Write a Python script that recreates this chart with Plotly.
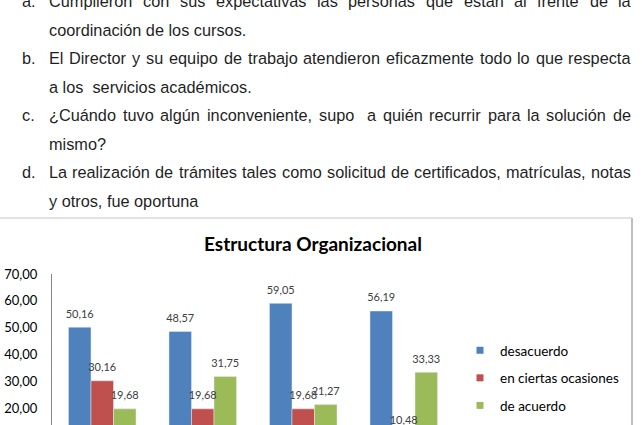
import plotly.graph_objects as go

# ---------------- data ----------------
categories = ["a", "b", "c", "d"]
series_names = ["desacuerdo", "en ciertas ocasiones", "de acuerdo"]
desacuerdo = [50.16, 48.57, 59.05, 56.19]
en_ciertas_ocasiones = [30.16, 19.68, 19.68, 10.48]
de_acuerdo = [19.68, 31.75, 21.27, 33.33]
y_tick_values = [20, 30, 40, 50, 60, 70]
chart_title = "Estructura Organizacional"

doc_labels = ["a.", "b.", "c.", "d."]
doc_first_lines = [
    "Cumplieron con sus expectativas las personas que están al frente de la",
    "El Director y su equipo de trabajo atendieron eficazmente todo lo que respecta",
    "¿Cuándo tuvo algún inconveniente, supo  a quién recurrir para la solución de",
    "La realización de trámites tales como solicitud de certificados, matrículas, notas",
]
doc_second_lines = [
    "coordinación de los cursos.",
    "a los\u00a0 servicios académicos.",
    "mismo?",
    "y otros, fue oportuna",
]

# ---------------- layout geometry (pixels) ----------------
W, H = 642, 425
colors = ["#4F81BD", "#C0504D", "#9BBB59"]
first_baselines = [7, 64, 121, 178]
second_baselines = [35.5, 92.5, 149.5, 206.5]
text_left, text_right = 49, 631
label_x = 22
doc_fs = 16.3

plot_left, plot_right = 52, 454
y_top_px = 274
px_per_unit = 2.68
y_max = 70
y_min = y_max - (H - y_top_px) / px_per_unit
bar_gap = 0.328

# Arial / Liberation Sans advance widths (1/1000 em) used to justify the text lines
_adv = {" ": 278, ",": 278, ".": 278, "?": 556, "¿": 611,
        "a": 556, "b": 556, "c": 500, "d": 556, "e": 556, "f": 278, "g": 556, "h": 556,
        "i": 222, "j": 222, "k": 500, "l": 222, "m": 833, "n": 556, "o": 556, "p": 556,
        "q": 556, "r": 333, "s": 500, "t": 278, "u": 556, "v": 500, "w": 722, "x": 500,
        "y": 500, "z": 500, "á": 556, "é": 556, "í": 278, "ó": 556, "ú": 556,
        "C": 722, "D": 722, "E": 667, "L": 556}


def text_w(s, fs):
    return sum(_adv.get(ch, 556) for ch in s) * fs / 1000.0


def px(x):
    return x / W


def py(y):
    return 1 - y / H


fig = go.Figure()
series_values = [desacuerdo, en_ciertas_ocasiones, de_acuerdo]
for name, vals, col in zip(series_names, series_values, colors):
    fig.add_trace(go.Bar(
        x=categories, y=vals, name=name, marker_color=col,
        offsetgroup=name, showlegend=False, legendgroup=name, hoverinfo="skip",
    ))
# data labels (text placed above each bar, Excel-like offset via an invisible marker)
for name, vals, col in zip(series_names, series_values, colors):
    fig.add_trace(go.Scatter(
        x=categories, y=vals, mode="markers+text", offsetgroup=name,
        text=[f"{v:.2f}".replace(".", ",") for v in vals], textposition="top center",
        textfont=dict(family="Lato", size=11, color="#404040"),
        marker=dict(size=9.3, opacity=0, color=col),
        showlegend=False, legendgroup=name, hoverinfo="skip",
    ))
# legend entries
for name, col in zip(series_names, colors):
    fig.add_trace(go.Scatter(
        x=[None], y=[None], mode="markers", name=name, legendgroup=name, offsetgroup=name,
        marker=dict(symbol="square", size=7, color=col), showlegend=True,
    ))

annotations = []
doc_font = dict(family="Liberation Sans, Arial", size=doc_fs, color="#1f1f1f")


def add_text(t, x, cy, anchor="left"):
    annotations.append(dict(text=t, x=px(x), y=py(cy), xref="paper", yref="paper",
                            xanchor=anchor, yanchor="middle", showarrow=False, font=doc_font,
                            borderpad=0, borderwidth=0))


for i in range(len(doc_labels)):
    cy1 = first_baselines[i] - 0.35 * doc_fs
    cy2 = second_baselines[i] - 0.35 * doc_fs
    add_text(doc_labels[i], label_x, cy1)
    tokens = doc_first_lines[i].split(" ")
    words = [t for t in tokens if t]
    n_spaces = len(tokens) - 1
    total_words = sum(text_w(w, doc_fs) for w in words)
    space_w = (text_right - text_left - total_words) / n_spaces
    x = text_left
    for k, t in enumerate(tokens):
        if t:
            add_text(t, x, cy1)
            x += text_w(t, doc_fs)
        if k < len(tokens) - 1:
            x += space_w
    add_text(doc_second_lines[i], text_left, cy2)

shapes = [
    dict(type="line", xref="paper", yref="paper", x0=0, x1=px(632), y0=py(218), y1=py(218),
         line=dict(color="#d9d9d9", width=1.5)),
    dict(type="line", xref="paper", yref="paper", x0=px(632), x1=px(632), y0=py(218), y1=0,
         line=dict(color="#bfbfbf", width=2)),
]

fig.update_layout(
    width=W, height=H, autosize=False,
    margin=dict(l=0, r=0, t=0, b=0, pad=0, autoexpand=False),
    paper_bgcolor="white", plot_bgcolor="white",
    separators=",.",
    barmode="group", bargap=bar_gap, bargroupgap=0,
    scattermode="group", scattergap=bar_gap,
    title=dict(text=chart_title, x=px(313), y=py(244), xanchor="center", yanchor="middle",
               xref="paper", yref="paper",
               font=dict(family="Lato", size=19, color="#000000", weight="bold")),
    xaxis=dict(domain=[px(plot_left), px(plot_right)], showline=False, showgrid=False,
               zeroline=False, ticks="", showticklabels=False, automargin=False),
    yaxis=dict(domain=[0, py(y_top_px)], range=[y_min, y_max], tickvals=y_tick_values,
               tickformat=".2f", showgrid=False, zeroline=False, showline=True,
               linecolor="#868686", linewidth=1, ticks="", ticklabelstandoff=11,
               automargin=False,
               tickfont=dict(family="Lato", size=13, color="#000000")),
    legend=dict(x=px(460), y=py(335), xanchor="left", yanchor="top", tracegroupgap=7,
                itemwidth=30, bgcolor="rgba(0,0,0,0)",
                font=dict(family="Lato", size=13.5, color="#000000")),
    annotations=annotations,
    shapes=shapes,
)

fig.write_html("out.html")
